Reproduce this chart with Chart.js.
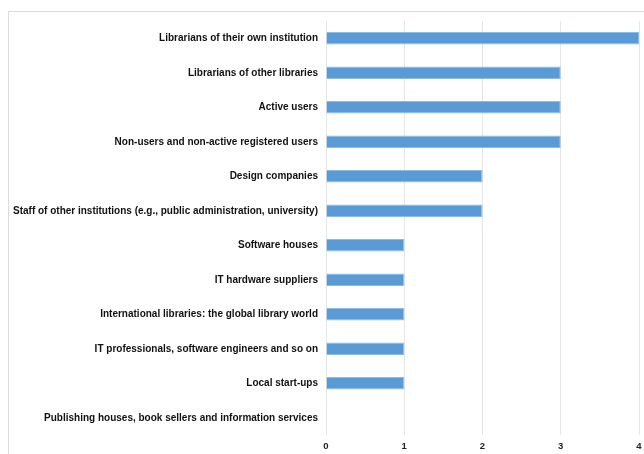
<!DOCTYPE html>
<html>
<head>
<meta charset="utf-8">
<script src="https://cdn.jsdelivr.net/npm/chart.js@4/dist/chart.umd.min.js"></script>
<style>
  html, body { margin: 0; padding: 0; background: #fff; }
  #wrap { position: relative; width: 644px; height: 454px; overflow: hidden; }
  #frame { position: absolute; left: 8px; top: 11px; width: 700px; height: 500px;
           border-top: 1px solid #dcdcdc; border-left: 1px solid #dcdcdc; }
  canvas { position: absolute; left: 0; top: 0; }
</style>
</head>
<body>
<div id="wrap">
  <div id="frame"></div>
  <canvas id="stakeChart" width="644" height="454"></canvas>
</div>
<script>
// categories (top to bottom) and their counts
var categories = [
  "Librarians of their own institution",
  "Librarians of other libraries",
  "Active users",
  "Non-users and non-active registered users",
  "Design companies",
  "Staff of other institutions (e.g., public administration, university)",
  "Software houses",
  "IT hardware suppliers",
  "International libraries: the global library world",
  "IT professionals, software engineers and so on",
  "Local start-ups",
  "Publishing houses, book sellers and information services"
];
var counts = [4, 3, 3, 3, 2, 2, 1, 1, 1, 1, 1, 0];
var xTicks = [0, 1, 2, 3, 4];

var ctx = document.getElementById("stakeChart").getContext("2d");

var config = {
  type: "bar",
  data: {
    labels: categories,
    datasets: [{
      data: counts,
      backgroundColor: "#5b9bd5",
      borderColor: "#8dbbe4",
      borderWidth: 1,
      categoryPercentage: 0.36,
      barPercentage: 1
    }]
  },
  options: {
    indexAxis: "y",
    responsive: false,
    animation: false,
    layout: { padding: { left: 0, right: 5, top: 21, bottom: 0 } },
    plugins: { legend: { display: false }, tooltip: { enabled: false } },
    scales: {
      x: {
        min: 0,
        max: 4,
        afterBuildTicks: function (scale) {
          scale.ticks = xTicks.map(function (v) { return { value: v }; });
        },
        afterFit: function (scale) {
          scale.height = 19;
          scale.paddingRight = 0;
          scale.paddingLeft = 0;
        },
        grid: { color: "#e6e6e6", lineWidth: 1, drawTicks: false },
        border: { display: false },
        ticks: {
          padding: 6,
          color: "#222",
          font: { family: "Liberation Sans", size: 9.5, weight: "bold" }
        }
      },
      y: {
        afterFit: function (scale) { scale.width = 326; },
        grid: { display: false, drawTicks: false },
        border: { display: false },
        ticks: {
          padding: 8,
          color: "#111",
          font: { family: "Liberation Sans", size: 10, weight: "bold" }
        }
      }
    }
  }
};

var myChart = new Chart(ctx, config);
</script>
</body>
</html>
